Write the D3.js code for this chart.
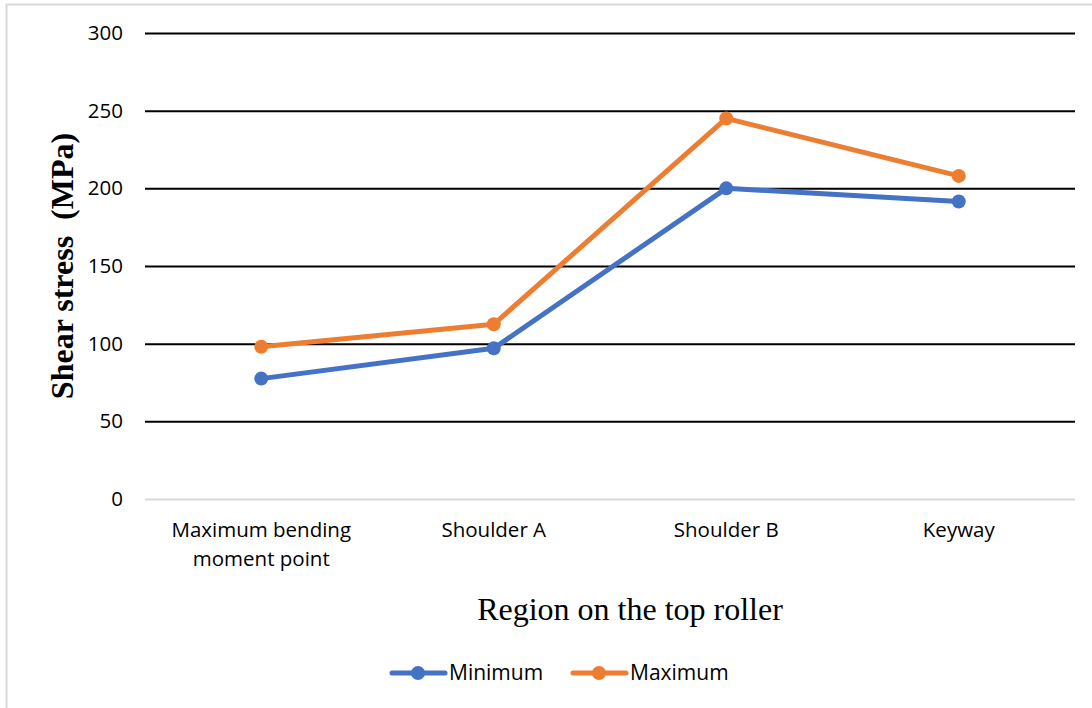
<!DOCTYPE html>
<html>
<head>
<meta charset="utf-8">
<script src="https://cdn.jsdelivr.net/npm/d3@7"></script>
<style>
  html, body { margin: 0; padding: 0; background: #fff; }
  svg { display: block; }
</style>
</head>
<body>
<svg id="chart" width="1092" height="708"></svg>
<script>
// Shear stress at regions of the top roller
const categories = [["Maximum bending", "moment point"], ["Shoulder A"], ["Shoulder B"], ["Keyway"]];
const minimumValues = [77.5, 97, 200, 191.5];
const maximumValues = [98, 112.5, 245, 208];
const yTicks = [0, 50, 100, 150, 200, 250, 300];
const seriesNames = ["Minimum", "Maximum"];
const seriesColors = ["#4472C4", "#ED7D31"];

const svg = d3.select("#chart");
const W = 1092, H = 708;
const plot = { left: 145, right: 1075, top: 33, bottom: 499 };
const tickFont = "'Open Sans', 'Noto Sans', sans-serif";
const tickSize = 20.5;

// chart frame
svg.append("rect").attr("x", 6.5).attr("y", 4.5).attr("width", W + 10).attr("height", H + 10)
  .attr("fill", "#fff").attr("stroke", "#d9d9d9").attr("stroke-width", 2);

const x = d3.scaleBand().domain(d3.range(categories.length)).range([plot.left, plot.right]);
const y = d3.scaleLinear().domain([0, 300]).range([plot.bottom, plot.top]);

// gridlines
const yAxis = d3.axisLeft(y).tickValues(yTicks).tickSize(-(plot.right - plot.left)).tickPadding(22);
const gy = svg.append("g").attr("transform", `translate(${plot.left},0)`).call(yAxis);
gy.select(".domain").remove();
gy.selectAll(".tick line")
  .attr("stroke", d => d === 0 ? "#d9d9d9" : "#000")
  .attr("stroke-width", 2);
gy.selectAll(".tick text")
  .attr("font-family", tickFont).attr("font-size", tickSize).attr("fill", "#000");

// category labels
const xAxis = d3.axisBottom(x).tickSize(0).tickFormat("");
const gx = svg.append("g").attr("transform", `translate(0,${plot.bottom})`).call(xAxis);
gx.select(".domain").remove();
gx.selectAll(".tick").each(function(i) {
  const t = d3.select(this).append("text")
    .attr("text-anchor", "middle")
    .attr("font-family", tickFont).attr("font-size", tickSize).attr("fill", "#000");
  categories[i].forEach((line, k) => {
    t.append("tspan").attr("x", 0).attr("y", 38 + k * 29).text(line);
  });
});

// series lines and markers
const series = [minimumValues, maximumValues];
const line = d3.line().x((d, i) => x(i) + x.bandwidth() / 2).y(d => y(d));
series.forEach((vals, s) => {
  svg.append("path").datum(vals)
    .attr("d", line).attr("fill", "none")
    .attr("stroke", seriesColors[s]).attr("stroke-width", 5)
    .attr("stroke-linejoin", "round").attr("stroke-linecap", "round");
  svg.selectAll(null).data(vals).enter().append("circle")
    .attr("cx", (d, i) => x(i) + x.bandwidth() / 2)
    .attr("cy", d => y(d))
    .attr("r", 7)
    .attr("fill", seriesColors[s]);
});

// axis titles
svg.append("text")
  .attr("transform", `translate(73,${(plot.top + plot.bottom) / 2}) rotate(-90)`)
  .attr("text-anchor", "middle")
  .attr("font-family", "'Liberation Serif', 'Times New Roman', serif")
  .attr("font-weight", "bold").attr("font-size", 32)
  .attr("xml:space", "preserve")
  .text("Shear stress  (MPa)");

svg.append("text")
  .attr("x", 630).attr("y", 620)
  .attr("text-anchor", "middle")
  .attr("font-family", "'Liberation Serif', 'Times New Roman', serif")
  .attr("font-size", 32)
  .text("Region on the top roller");

// legend
const legendItems = [{ x: 390, name: seriesNames[0], color: seriesColors[0] },
                     { x: 571, name: seriesNames[1], color: seriesColors[1] }];
const lg = svg.append("g").attr("transform", "translate(0,673)");
legendItems.forEach(item => {
  lg.append("line").attr("x1", item.x + 2).attr("x2", item.x + 55).attr("y1", 0).attr("y2", 0)
    .attr("stroke", item.color).attr("stroke-width", 5).attr("stroke-linecap", "round");
  lg.append("circle").attr("cx", item.x + 28).attr("cy", 0).attr("r", 7).attr("fill", item.color);
  lg.append("text").attr("x", item.x + 59).attr("y", 0).attr("dy", "0.35em")
    .attr("font-family", tickFont).attr("font-size", 21).attr("fill", "#000")
    .text(item.name);
});
</script>
</body>
</html>
